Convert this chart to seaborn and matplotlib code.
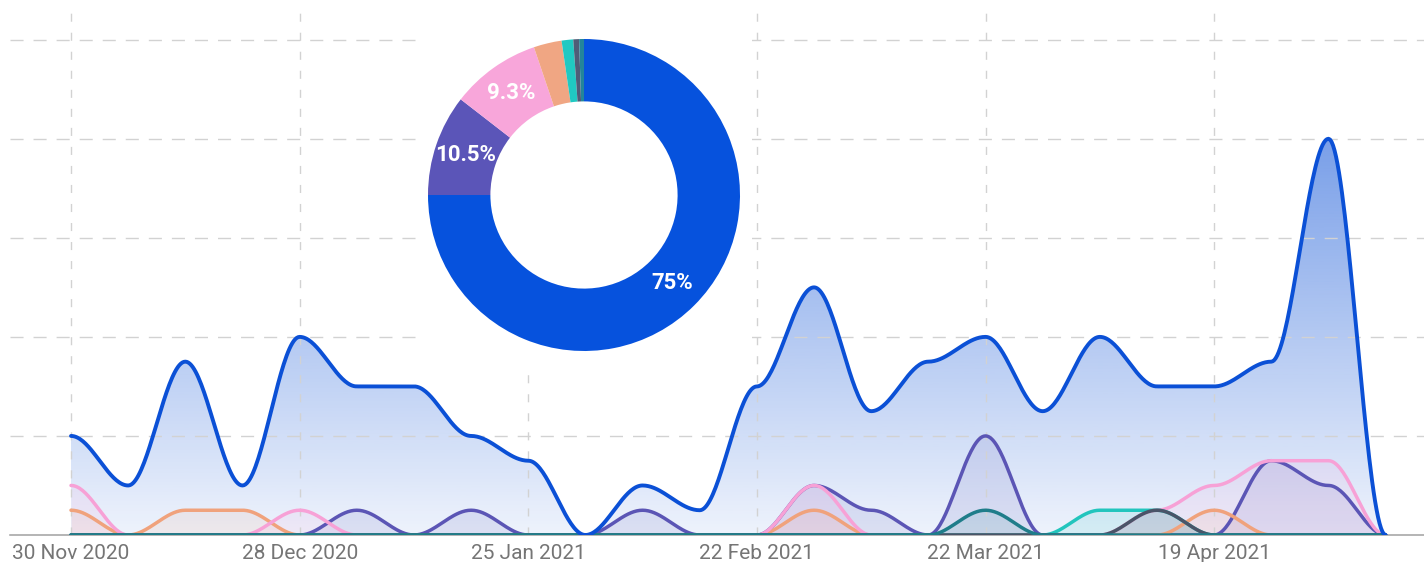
import numpy as np
import pandas as pd
import matplotlib
matplotlib.use("Agg")
import matplotlib.pyplot as plt
import matplotlib.dates as mdates
import seaborn as sns

# weekly counts (30 Nov 2020 .. 10 May 2021)
weeks = pd.date_range("2020-11-30", periods=24, freq="7D")
main_counts = [4, 2, 7, 2, 8, 6, 6, 4, 3, 0, 2, 1, 6, 10, 5, 7, 8, 5, 8, 6, 6, 7, 16, 0]
indigo_counts = [0, 0, 0, 0, 0, 1, 0, 1, 0, 0, 1, 0, 0, 2, 1, 0, 4, 0, 0, 0, 0, 3, 2, 0]
pink_counts = [2, 0, 0, 0, 1, 0, 0, 0, 0, 0, 0, 0, 0, 2, 0, 0, 0, 0, 0, 1, 2, 3, 3, 0]
orange_counts = [1, 0, 1, 1, 0, 0, 0, 0, 0, 0, 0, 0, 0, 1, 0, 0, 0, 0, 0, 0, 1, 0, 0, 0]
teal_counts = [0, 0, 0, 0, 0, 0, 0, 0, 0, 0, 0, 0, 0, 0, 0, 0, 0, 0, 1, 1, 0, 0, 0, 0]
slate_counts = [0, 0, 0, 0, 0, 0, 0, 0, 0, 0, 0, 0, 0, 0, 0, 0, 0, 0, 0, 1, 0, 0, 0, 0]
darkteal_counts = [0, 0, 0, 0, 0, 0, 0, 0, 0, 0, 0, 0, 0, 0, 0, 0, 1, 0, 0, 0, 0, 0, 0, 0]

# donut shares (%)
donut_share = [75, 10.5, 9.3, 2.9, 1.2, 0.6, 0.5]
donut_colors = ["#0652dd", "#5b55b8", "#f8a6da", "#f0a683", "#20c9c2", "#4f5d78", "#23859a"]

BLUE = "#0b50d6"
small_series = [
    (indigo_counts, "#5b55b5"),
    (orange_counts, "#f0a27c"),
    (pink_counts, "#f7a1d6"),
    (teal_counts, "#22c5bd"),
    (slate_counts, "#4a5468"),
    (darkteal_counts, "#1f7d8a"),
]


def smooth(xv, yv, per=40):
    # bezier segments with flat tangents at every point (control points at 35%)
    xv = np.asarray(xv, float)
    yv = np.asarray(yv, float)
    xs, ys = [], []
    for i in range(len(xv) - 1):
        t = np.linspace(0, 1, per, endpoint=(i == len(xv) - 2))
        a = (1 - t) ** 3 + 3 * (1 - t) ** 2 * t
        b = 3 * (1 - t) * t ** 2 + t ** 3
        h = xv[i + 1] - xv[i]
        xs.append(xv[i] + h * (3 * (1 - t) ** 2 * t * 0.35 + 3 * (1 - t) * t ** 2 * 0.65 + t ** 3))
        ys.append(yv[i] * a + yv[i + 1] * b)
    return np.concatenate(xs), np.concatenate(ys)


sns.set_theme(style="white")
plt.rcParams["font.family"] = ["Roboto", "DejaVu Sans"]

fig = plt.figure(figsize=(14.24, 5.62), dpi=100)
ax = fig.add_axes([10 / 1424, 27 / 562, 1414 / 1424, 525 / 562])

xnum = mdates.date2num(weeks)

# main series: gradient fill under the curve
mx, my = smooth(xnum, main_counts)
poly = ax.fill_between(mx, my, 0, facecolor="none", edgecolor="none")
rgb = matplotlib.colors.to_rgb(BLUE)
grad = np.zeros((256, 1, 4))
grad[..., :3] = rgb
grad[..., 3] = np.linspace(0.55, 0.07, 256)[:, None]
im = ax.imshow(grad, extent=[xnum[0], xnum[-1], 0, 16], aspect="auto", origin="upper", zorder=1)
im.set_clip_path(poly.get_paths()[0], transform=ax.transData)

# the smaller series
for i, (vals, col) in enumerate(small_series):
    sx, sy = smooth(xnum, vals)
    ax.fill_between(sx, sy, 0, color=col, alpha=0.12, linewidth=0, zorder=1.5)
    sns.lineplot(x=sx, y=sy, ax=ax, color=col, linewidth=2.5, zorder=3 + i * 0.1,
                 solid_capstyle="round", sort=False)

sns.lineplot(x=mx, y=my, ax=ax, color=BLUE, linewidth=2.8, zorder=4,
             solid_capstyle="round", sort=False)

ax.set_xlim(xnum[0] - 7.47, xnum[0] + 165.7)
ax.set_ylim(0, 21.2)
ax.set_xlabel("")
ax.set_ylabel("")
ax.set_xticks(xnum[[0, 4, 8, 12, 16, 20]])
ax.xaxis.set_major_formatter(mdates.DateFormatter("%d %b %Y"))
ax.set_yticks([4, 8, 12, 16, 20])
ax.set_yticklabels([])
ax.tick_params(axis="x", length=0, pad=6.5, labelsize=15, labelcolor="#757575")
ax.tick_params(axis="y", length=0)
ax.set_axisbelow(False)
ax.yaxis.grid(True, color="#d2d2d2", linewidth=1.0, linestyle=(0, (9.4, 7.2)))
ax.xaxis.grid(True, color="#d2d2d2", linewidth=1.0, linestyle=(0, (5.8, 7.9)))
for side in ["left", "top", "right"]:
    ax.spines[side].set_visible(False)
ax.spines["bottom"].set_color("#a0a0a0")
ax.spines["bottom"].set_linewidth(1.1)

# donut inset
ax_in = fig.add_axes([418 / 1424, (562 - 372) / 562, 334 / 1424, 372 / 562])


def pct_label(p):
    if p < 5:
        return ""
    return f"{p:.1f}".rstrip("0").rstrip(".") + "%"


ax_in.pie(donut_share, colors=donut_colors, startangle=90, counterclock=False,
          wedgeprops=dict(width=0.4, linewidth=0), autopct=pct_label, pctdistance=0.8,
          textprops=dict(color="white", fontsize=16, fontweight="bold"))
ax_in.set_frame_on(True)
ax_in.set_facecolor("white")
for sp in ax_in.spines.values():
    sp.set_visible(False)
ax_in.set_aspect("auto")
ax_in.set_xlim(-(584 - 418) / 156, (752 - 584) / 156)
ax_in.set_ylim(-(372 - 195) / 156, 195 / 156)

fig.savefig("out.png", dpi=100)
